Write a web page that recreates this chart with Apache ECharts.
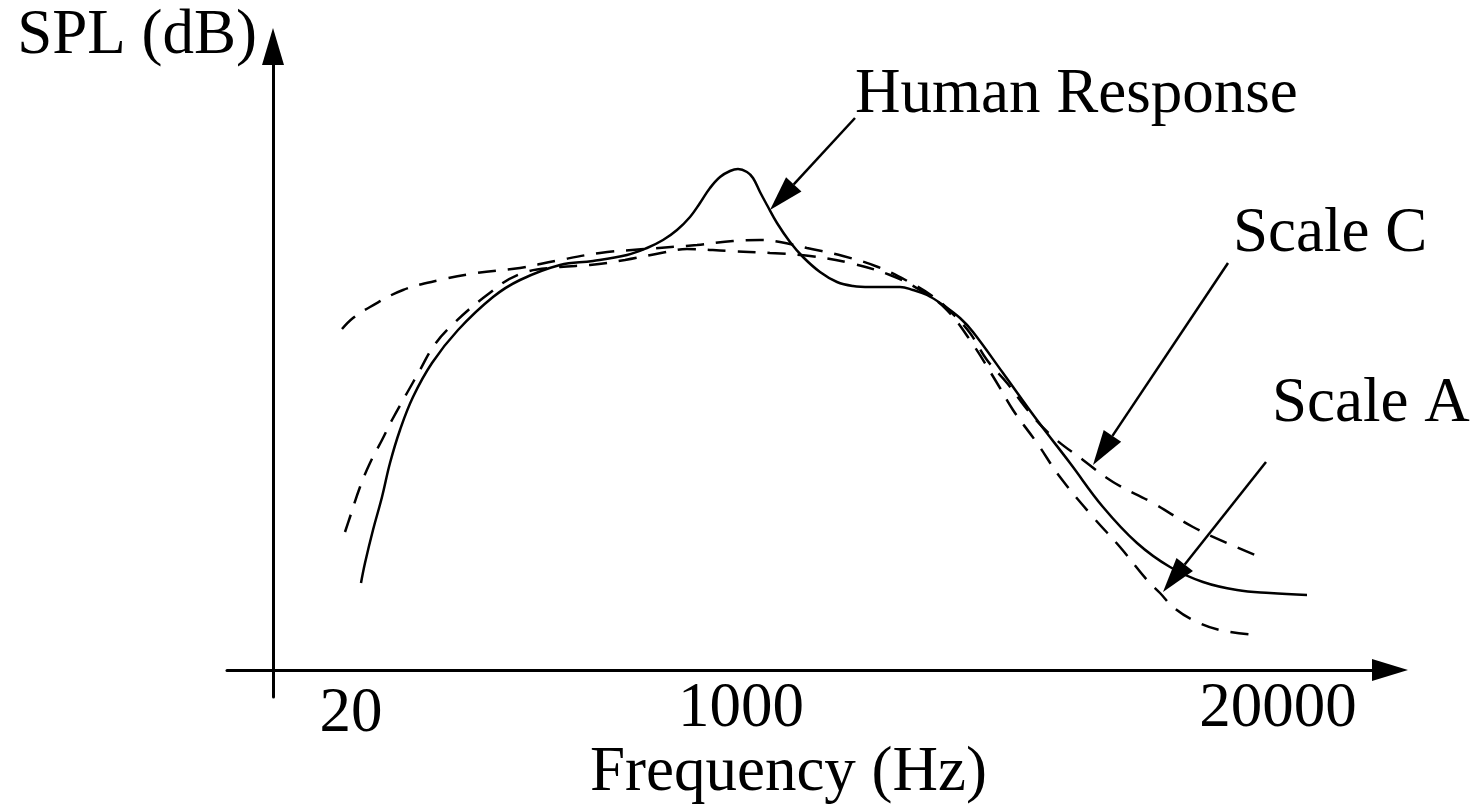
<!DOCTYPE html>
<html><head><meta charset="utf-8">
<script src="https://cdn.jsdelivr.net/npm/echarts@6/dist/echarts.min.js"></script>
<style>html,body{margin:0;padding:0;background:#fff}#c{width:1473px;height:806px}</style>
</head><body><div id="c"></div>
<script>
// Schematic units: x = position along frequency axis, y = relative SPL
const humanX = [8.8,9.2,10.0,10.9,11.7,12.7,14.0,15.9,18.5,22.0,24.7,28.7,32.0,35.4,37.4,39.0,40.4,41.7,42.7,43.7,44.7,45.7,46.5,47.4,48.0,48.7,49.4,50.4,51.7,53.0,54.7,56.4,58.0,59.7,61.4,62.7,64.0,65.4,67.0,68.7,70.0,73.0,76.4,79.7,83.0,86.4,89.7,93.0,96.4,99.7,103.4];
const humanY = [8.7,10.7,14.0,17.3,20.7,24.0,27.3,30.7,34.0,37.3,39.0,40.5,40.9,41.5,42.2,43.0,44.0,45.3,46.7,48.2,49.3,49.9,50.1,49.8,49.2,47.8,46.5,44.7,42.8,41.3,39.8,38.8,38.4,38.3,38.3,38.3,38.0,37.5,36.5,35.2,33.8,29.7,25.0,20.7,16.3,12.7,10.3,8.8,8.0,7.7,7.5];

const scaleAX = [7.2,7.7,8.7,9.7,10.9,11.9,13.4,14.7,16.0,17.7,21.4,24.7,28.7,31.7,35.2,38.8,41.4,45.5,49.7,53.7,57.7,61.7,64.7,67.2,69.7,72.4,74.0,76.4,78.7,82.0,84.7,87.4,88.7,90.0,92.0,94.7,98.5];
const scaleAY = [13.8,15.3,18.3,20.7,23.0,25.0,27.7,30.0,32.3,34.3,37.5,39.6,40.3,40.5,41.0,41.7,42.1,41.9,41.7,41.4,40.7,39.5,38.0,36.2,33.0,28.7,26.0,22.7,19.3,15.3,12.3,9.0,7.7,6.3,5.0,4.0,3.5];

const scaleCX = [6.9,8.0,9.7,13.0,16.7,20.4,24.7,28.2,32.7,37.2,42.4,46.0,48.7,50.7,53.4,57.0,60.5,63.8,66.2,68.0,69.7,71.4,73.4,75.7,78.0,81.0,84.0,88.0,92.0,95.4,98.2];
const scaleCY = [34.1,35.2,36.3,38.0,39.0,39.7,40.2,40.9,41.7,42.1,42.5,42.9,43.0,42.8,42.2,41.4,40.3,38.7,37.2,35.6,33.7,31.0,28.7,25.7,23.3,21.0,18.8,16.7,14.3,12.7,11.5];

const tickValues = [7.8, 46.8, 100.5];
const tickLabels = ['20', '1000', '20000'];

const annotations = ['Human Response', 'Scale C', 'Scale A'];
const arrowFromX = [58.2, 95.5, 99.3];
const arrowFromY = [55.2, 40.7, 20.8];
const arrowToX = [49.7, 82.0, 89.0];
const arrowToY = [46.0, 20.5, 7.8];
const labelX = [58.2, 96.0, 99.9];
const labelY = [57.5, 43.6, 26.6];

const FONT = '"Liberation Serif", "Times New Roman", serif';
const pairs = (xs, ys) => xs.map((x, i) => [x, ys[i]]);

const chart = echarts.init(document.getElementById('c'), null, {renderer: 'canvas'});
chart.setOption({
  animation: false,
  backgroundColor: '#fff',
  grid: {left: 227, right: 83, top: 46.5, bottom: 109, containLabel: false, outerBoundsMode: 'none'},
  xAxis: {
    type: 'value', min: -4.6, max: 111.7,
    name: 'Frequency (Hz)', nameLocation: 'middle', nameGap: 76, nameMoveOverlap: false,
    nameTextStyle: {fontFamily: FONT, fontSize: 63, color: '#000', verticalAlign: 'middle', padding: [0, 40, 0, 0]},
    axisLine: {show: true, onZero: true, symbol: ['none', 'triangle'], symbolSize: [22, 36], lineStyle: {color: '#000', width: 3}},
    axisTick: {show: false},
    splitLine: {show: false},
    axisLabel: {
      show: true, customValues: tickValues, margin: 12, verticalAlign: 'middle',
      fontFamily: FONT, fontSize: 63, color: '#000',
      formatter: function (v) {
        const i = tickValues.indexOf(v);
        const t = i >= 0 ? tickLabels[i] : '';
        return i === 0 ? '{lo|' + t + '}' : '{n|' + t + '}';
      },
      rich: {
        n: {fontFamily: FONT, fontSize: 63, color: '#000'},
        lo: {fontFamily: FONT, fontSize: 63, color: '#000', padding: [11, 0, 0, 0]}
      }
    }
  },
  yAxis: {
    type: 'value', min: -2.7, max: 62.35,
    name: 'SPL (dB)', nameLocation: 'end', nameGap: 10.5, nameMoveOverlap: false,
    nameTextStyle: {fontFamily: FONT, fontSize: 63, color: '#000', align: 'right', verticalAlign: 'middle', padding: [0, 16, 0, 0]},
    axisLine: {show: true, onZero: true, symbol: ['none', 'triangle'], symbolSize: [22, 37], lineStyle: {color: '#000', width: 3}},
    axisTick: {show: false},
    axisLabel: {show: false},
    splitLine: {show: false}
  },
  series: [
    {name: 'Human Response', type: 'line', data: pairs(humanX, humanY), smooth: 0.4, showSymbol: false,
     lineStyle: {color: '#000', width: 2.5}},
    {name: 'Scale A', type: 'line', data: pairs(scaleAX, scaleAY), smooth: 0.4, showSymbol: false,
     lineStyle: {color: '#000', width: 2.5, type: [18, 12]}},
    {name: 'Scale C', type: 'line', data: pairs(scaleCX, scaleCY), smooth: 0.4, showSymbol: false,
     lineStyle: {color: '#000', width: 2.5, type: [18, 12]}},
    {name: 'annotations', type: 'custom', clip: false,
     data: annotations.map((a, i) => [arrowFromX[i], arrowFromY[i], arrowToX[i], arrowToY[i], labelX[i], labelY[i]]),
     renderItem: function (params, api) {
       const p1 = api.coord([api.value(0), api.value(1)]);
       const p2 = api.coord([api.value(2), api.value(3)]);
       const pt = api.coord([api.value(4), api.value(5)]);
       const dx = p2[0] - p1[0], dy = p2[1] - p1[1];
       const len = Math.hypot(dx, dy);
       const ux = dx / len, uy = dy / len;
       const L = 35, W = 21;
       const bx = p2[0] - ux * L, by = p2[1] - uy * L;
       const nx = -uy, ny = ux;
       return {type: 'group', children: [
         {type: 'line', shape: {x1: p1[0], y1: p1[1], x2: bx, y2: by}, style: {stroke: '#000', lineWidth: 2.5}},
         {type: 'polygon', shape: {points: [[p2[0], p2[1]], [bx + nx * W / 2, by + ny * W / 2], [bx - nx * W / 2, by - ny * W / 2]]}, style: {fill: '#000'}},
         {type: 'text', x: pt[0], y: pt[1], style: {text: annotations[params.dataIndex], font: '63px ' + FONT, fill: '#000', align: 'left', verticalAlign: 'middle'}}
       ]};
     }}
  ]
});
</script>
</body></html>
